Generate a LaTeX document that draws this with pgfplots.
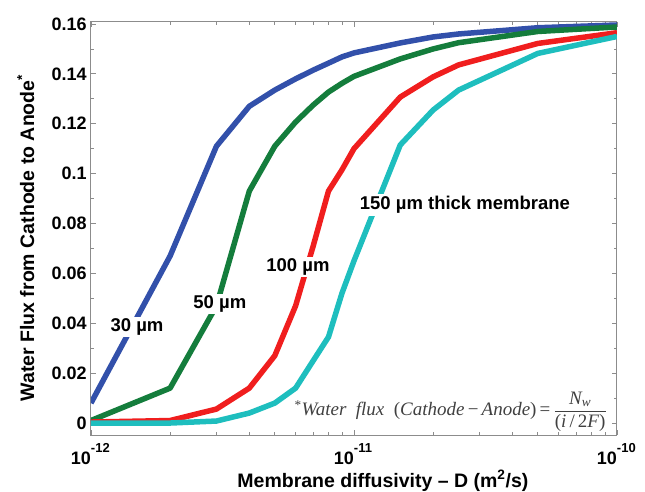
\documentclass[border=0pt]{standalone}
\usepackage{amsmath}
\usepackage{pgfplots}
\pgfplotsset{compat=1.18}
\usepackage{fontspec}
\setmainfont{Liberation Sans}
\newfontfamily\timesfont{Liberation Serif}

\definecolor{cblue}{RGB}{50,80,170}
\definecolor{cgreen}{RGB}{20,125,60}
\definecolor{cred}{RGB}{240,30,30}
\definecolor{ccyan}{RGB}{30,190,190}

% 10^-n label: "10" ends at the tick, exponent starts there
\newcommand\dec[1]{\llap{10}\rlap{\raisebox{12.5pt}{\fontsize{13}{13}\selectfont -#1}}}

\begin{document}
\begin{tikzpicture}
\begin{axis}[
    scale only axis,
    width=526pt, height=413pt,
    xmode=log,
    xmin=1e-12, xmax=1e-10,
    ymin=-0.0048, ymax=0.1608,
    xtick={1e-12,1e-11,1e-10},
    xticklabels={\dec{12},\dec{11},\dec{10}},
    minor xtick={2e-12,3e-12,4e-12,5e-12,6e-12,7e-12,8e-12,9e-12,2e-11,3e-11,4e-11,5e-11,6e-11,7e-11,8e-11,9e-11},
    ytick={0,0.02,0.04,0.06,0.08,0.1,0.12,0.14,0.16},
    yticklabels={0,0.02,0.04,0.06,0.08,0.1,0.12,0.14,0.16},
    minor y tick num=1,
    tick align=inside,
    major tick length=5pt, minor tick length=3pt,
    axis line style={black!45, line width=1pt},
    every tick/.style={black!45, line width=0.8pt},
    ticklabel style={font=\fontsize{18}{18}\selectfont\bfseries},
    xticklabel style={anchor=north, inner sep=0pt, yshift=-8pt},
    yticklabel style={anchor=east, inner sep=0pt, xshift=-4pt},
    xlabel={Membrane diffusivity -- D (m\textsuperscript{2}/s)},
    ylabel={Water Flux from Cathode to Anode\textsuperscript{*}},
    label style={font=\fontsize{19.5}{20}\selectfont\bfseries},
    xlabel style={at={(axis description cs:0.555,-0.126)}, anchor=base},
    ylabel style={at={(axis description cs:-0.124,0.477)}, anchor=center},
    every axis plot/.style={line width=5.5pt, line join=round, mark=none},
]
% D, 30um, 50um, 100um, 150um
\addplot[cblue] table {
1e-12   0.008
2e-12   0.067
3e-12   0.111
4e-12   0.127
5e-12   0.1335
6e-12   0.138
7e-12   0.1415
8e-12   0.1443
9e-12   0.1468
1e-11   0.1484
1.5e-11 0.1524
2e-11   0.1548
2.5e-11 0.156
5e-11   0.1585
1e-10   0.1596
};
\addplot[cgreen] table {
1e-12   0.001
2e-12   0.014
3e-12   0.047
4e-12   0.093
5e-12   0.111
6e-12   0.1207
7e-12   0.1275
8e-12   0.1327
9e-12   0.1362
1e-11   0.139
1.5e-11 0.146
2e-11   0.150
2.5e-11 0.1525
5e-11   0.157
1e-10   0.1588
};
\addplot[cred] table {
1e-12   0.0004
2e-12   0.001
3e-12   0.0056
4e-12   0.014
5e-12   0.027
6e-12   0.047
7e-12   0.071
8e-12   0.093
9e-12   0.1015
1e-11   0.110
1.5e-11 0.1307
2e-11   0.1388
2.5e-11 0.1436
5e-11   0.1522
1e-10   0.1565
};
\addplot[ccyan] table {
1e-12   0
2e-12   0
3e-12   0.0008
4e-12   0.004
5e-12   0.008
6e-12   0.014
7e-12   0.025
8e-12   0.0345
9e-12   0.052
1e-11   0.065
1.5e-11 0.1115
2e-11   0.1255
2.5e-11 0.1335
5e-11   0.1482
1e-10   0.155
};

\begin{scope}[every node/.style={fill=white, inner sep=2pt, font=\fontsize{18.5}{18}\selectfont\bfseries}]
\node at (rel axis cs:0.0875,0.2615) {30 µm};
\node at (rel axis cs:0.245,0.317) {50 µm};
\node at (rel axis cs:0.3935,0.4068) {100 µm};
\node at (rel axis cs:0.711,0.557) {150 µm thick membrane};
\end{scope}

\node[anchor=east, inner sep=0pt, text=black!75, font=\timesfont\fontsize{19}{21}\selectfont]
  at (rel axis cs:0.981,0.056)
  {\textsuperscript{*}\textit{Water\ \ flux}\ \ (\textit{Cathode}\,−\,\textit{Anode})\,=\,$\dfrac{\mbox{\timesfont\itshape N\textsubscript{w}}}{\mbox{\timesfont(\textit{i}\,/\,2\textit{F})}}$};
\end{axis}
\pgfresetboundingbox
\path[use as bounding box] (-91pt,-56pt) rectangle (554pt,435pt);
\end{tikzpicture}
\end{document}
